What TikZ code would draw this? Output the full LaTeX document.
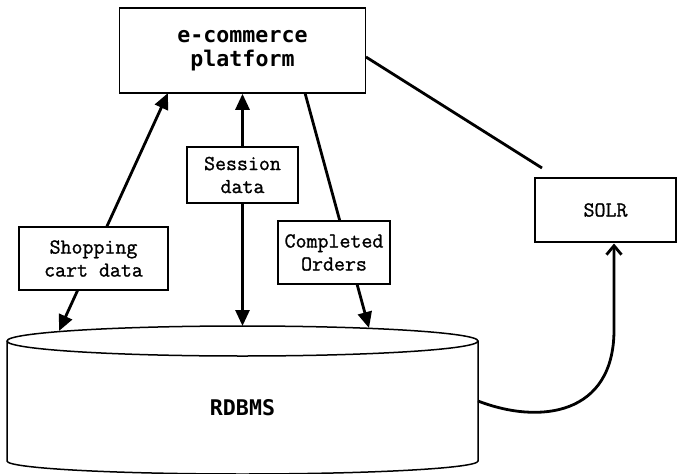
\documentclass[tikz,border=0pt]{standalone}
\usepackage{fontspec}
\newfontfamily\boldmono{DejaVu Sans Mono}
\newfontfamily\lblmono{Latin Modern Mono}[FakeBold=1.2]
\usetikzlibrary{arrows.meta}
\pgfdeclarelayer{bg}
\pgfsetlayers{bg,main}
\begin{document}
\begin{tikzpicture}[x=1pt,y=-1pt,
  box/.style={draw, line width=1.6pt, fill=white, inner sep=0pt, align=center},
  mainbox/.style={box, font=\boldmono\bfseries\fontsize{21.6}{24}\selectfont},
  lblbox/.style={box, font=\lblmono\fontsize{21.3}{23}\selectfont},
  conn/.style={line width=2.8pt},
  tipend/.style={-{Triangle[length=16pt,width=14pt]}},
  tipboth/.style={{Triangle[length=16pt,width=14pt]}-{Triangle[length=16pt,width=14pt]}},
  cmtip/.style={-{Straight Barb[length=9pt,width=15pt,line width=2.8pt]}},
  dbline/.style={line width=1.5pt}
]
\useasboundingbox (0,0) rectangle (678,474);

% nodes
\node[mainbox, minimum width=246pt, minimum height=85pt] (plat) at (242.5,50.5) {e-commerce\\platform};
\node[lblbox, minimum width=111pt, minimum height=56pt] (sess) at (242.5,175) {Session\\data};
\node[lblbox, minimum width=149pt, minimum height=63pt] (shop) at (93.5,258.5) {Shopping\\cart data};
\node[lblbox, minimum width=112pt, minimum height=63pt] (comp) at (334,252.5) {Completed\\Orders};
\node[lblbox, minimum width=141pt, minimum height=64pt] (solr) at (605.5,210) {SOLR};

% database cylinder
\draw[dbline, fill=white] (7,341) -- (7,461)
  arc[start angle=180, end angle=0, x radius=235.5, y radius=13] -- (478,341)
  arc[start angle=0, end angle=-180, x radius=235.5, y radius=15] -- cycle;
\draw[dbline] (7,341) arc[start angle=180, end angle=0, x radius=235.5, y radius=15];
\node[font=\boldmono\bfseries\fontsize{21.6}{24}\selectfont] (db) at (242.5,408) {RDBMS};

% connector end points
\coordinate (dbL) at (59,331);
\coordinate (dbM) at (242.5,326);
\coordinate (dbR) at (369,328);
\coordinate (dbE) at (478,401);
\coordinate (pL) at (168,93);
\coordinate (pR) at (305,93);
\coordinate (pE) at (366,57);
\coordinate (solrEnd) at (542,168);
\coordinate (solrIn) at (614,243.5);

\begin{pgfonlayer}{bg}
\draw[conn, tipboth] (dbL) -- (pL);
\draw[conn, tipboth] (dbM) -- (plat.south);
\draw[conn, tipend] (pR) -- (dbR);
\draw[conn] (pE) -- (solrEnd);
\end{pgfonlayer}
\draw[conn, cmtip] (dbE) .. controls (540,425) and (614,415) .. (614,330) -- (solrIn);
\end{tikzpicture}
\end{document}
